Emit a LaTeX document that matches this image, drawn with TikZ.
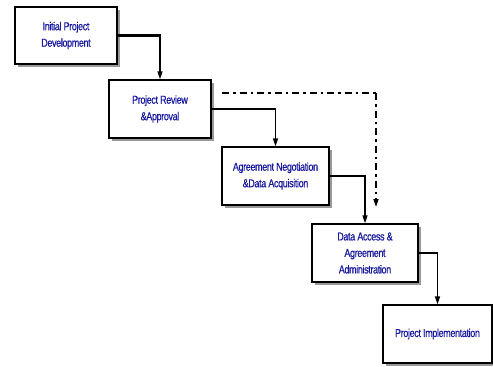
\documentclass[tikz,border=0pt]{standalone}
\usepackage{fontspec}
\setmainfont{Liberation Sans}[FakeStretch=0.78, LetterSpace=-3, FakeBold=0.6]
\usetikzlibrary{shadows,arrows.meta}
\definecolor{txtblue}{RGB}{24,24,160}
\tikzset{
  stepbox/.style={draw=black, line width=1.3pt, fill=white, align=center,
    text=txtblue, font=\fontsize{11.5}{16.5}\selectfont, inner sep=0pt,
    minimum height=57pt,
    drop shadow={shadow xshift=3pt, shadow yshift=-3pt, fill=gray!80, opacity=1}},
  hseg/.style={line width=2.6pt},
  vseg/.style={line width=1.3pt, -{Triangle[length=8pt,width=5pt]}},
  flowdash/.style={line width=2.4pt, dash pattern=on 7pt off 4pt on 2.5pt off 4pt},
  flowdashv/.style={line width=1.6pt, dash pattern=on 7pt off 4pt on 2.5pt off 4pt, -{Triangle[length=8pt,width=5pt]}}
}
\begin{document}
\begin{tikzpicture}[x=1pt,y=-1pt]
\useasboundingbox (0,0) rectangle (493,367);
\node[stepbox, minimum width=102pt] (b1) at (66,35.5) {Initial Project\\Development};
\node[stepbox, minimum width=102pt, minimum height=58pt] (b2) at (160,109) {Project Review\\\&Approval};
\node[stepbox, minimum width=107pt, minimum height=58pt] (b3) at (275.5,176) {Agreement Negotiation\\\&Data Acquisition};
\node[stepbox, minimum width=106pt, minimum height=58pt] (b4) at (365,253) {Data Access \&\\Agreement\\Administration};
\node[stepbox, minimum width=109pt, minimum height=58pt] (b5) at (437.5,334) {Project Implementation};
% connectors
\coordinate (c1) at (b1.east -| b2.north);
\coordinate (c2) at (b2.east -| b3.north);
\coordinate (c3) at (b3.east -| b4.north);
\coordinate (c4) at (b4.east -| b5.north);
\draw[hseg] (b1.east) -- ([xshift=0.65pt]c1);
\draw[vseg] (c1) -- (b2.north);
\draw[hseg] (b2.east) -- ([xshift=0.65pt]c2);
\draw[vseg] (c2) -- (b3.north);
\draw[hseg] (b3.east) -- ([xshift=0.65pt]c3);
\draw[vseg] (c3) -- (b4.north);
\draw[hseg] (b4.east) -- ([xshift=0.65pt]c4);
\draw[vseg] (c4) -- (b5.north);
% dash-dot feedback
\coordinate (ds) at (222,93);
\coordinate (dc) at (376,93);
\coordinate (de) at (376,207);
\draw[flowdash] (ds) -- (dc);
\draw[flowdashv] (dc) -- (de);
\end{tikzpicture}
\end{document}
